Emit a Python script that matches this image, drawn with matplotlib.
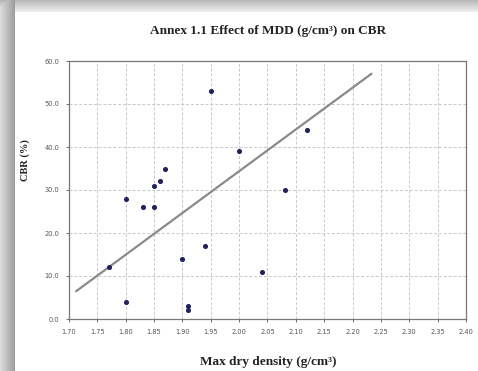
import numpy as np
import matplotlib
matplotlib.use("Agg")
import matplotlib.pyplot as plt

# --- data ---
mdd = [1.95, 2.00, 1.87, 1.86, 1.85, 1.80, 1.83, 1.85, 1.94, 1.90,
       1.77, 1.80, 1.91, 1.91, 2.12, 2.08, 2.04]
cbr = [53, 39, 35, 32, 31, 28, 26, 26, 17, 14,
       12, 4, 2, 3, 44, 30, 11]

# trend line as drawn in the source chart
trend_x = [1.713, 2.233]
trend_y = [6.5, 57.0]

x_ticks = [1.70, 1.75, 1.80, 1.85, 1.90, 1.95, 2.00, 2.05, 2.10,
           2.15, 2.20, 2.25, 2.30, 2.35, 2.40]
y_ticks = [0, 10, 20, 30, 40, 50, 60]

W, H = 478, 371
fig = plt.figure(figsize=(W / 100, H / 100), dpi=100)
fig.patch.set_facecolor("white")

# screenshot-style drop shadow (top and left edges)
bg = np.ones((H, W))
top = 12
left = 15
bg[:top, :] = np.linspace(0.72, 0.93, top)[:, None]
bg[:, :left] = np.minimum(bg[:, :left], np.linspace(0.86, 0.62, left)[None, :])
bax = fig.add_axes([0, 0, 1, 1], zorder=-5)
bax.imshow(bg, cmap="gray", vmin=0, vmax=1, aspect="auto", interpolation="bilinear")
bax.axis("off")

ax = fig.add_axes([69 / W, 1 - 319 / H, (466 - 69) / W, (319 - 61) / H])
ax.set_facecolor("white")

ax.plot(trend_x, trend_y, color="#8a8a8a", lw=1.6, zorder=2)
ax.scatter(mdd, cbr, s=7, marker="o", color="#22225e", zorder=3)

ax.set_xlim(1.70, 2.40)
ax.set_ylim(0, 60)
ax.set_xticks(x_ticks)
ax.set_yticks(y_ticks)
ax.set_xticklabels([f"{v:.2f}" for v in x_ticks])
ax.set_yticklabels([f"{v:.1f}" for v in y_ticks])
ax.tick_params(labelsize=4.8, colors="#555555", length=2, width=0.6, pad=5)

ax.grid(True, color="#c8c8c8", ls=(0, (3, 2)), lw=0.7)
ax.set_axisbelow(True)
for s in ax.spines.values():
    s.set_color("#777777")
    s.set_linewidth(0.9)

serif = ["Liberation Serif", "DejaVu Serif"]
fig.text(268 / W, 1 - 31 / H, "Annex 1.1 Effect of MDD (g/cm\u00b3) on CBR",
         ha="center", va="center", fontsize=9.5, fontweight="bold", family=serif, color="#222222")
fig.text(268 / W, 1 - 362 / H, "Max dry density (g/cm\u00b3)",
         ha="center", va="center", fontsize=9.5, fontweight="bold", family=serif, color="#222222")
fig.text(25 / W, 1 - 160 / H, "CBR (%)", rotation=90,
         ha="center", va="center", fontsize=7.5, fontweight="bold", family=serif, color="#222222")

fig.savefig("out.png", dpi=100)
